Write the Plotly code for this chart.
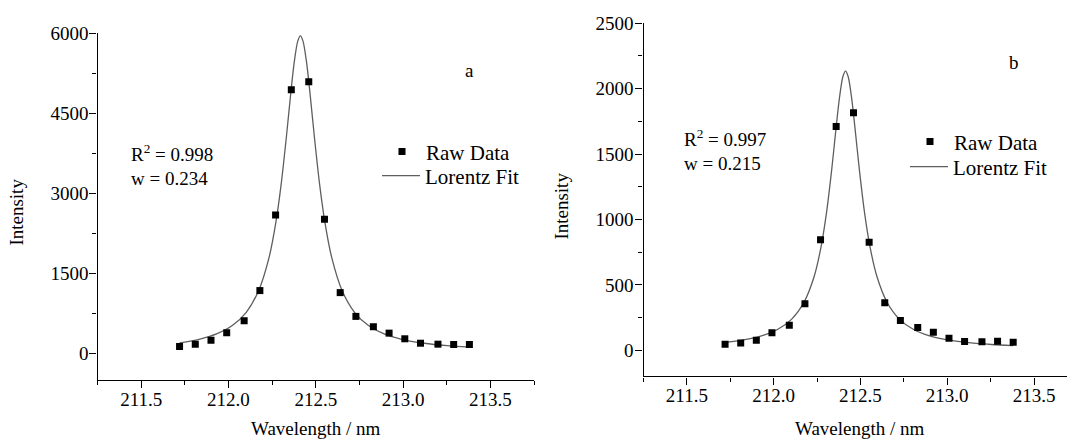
import plotly.graph_objects as go

W, H = 1067, 440

# ---------------- data ----------------
wavelength = [211.72, 211.81, 211.90, 211.99, 212.09, 212.18, 212.27, 212.36, 212.46, 212.55,
              212.64, 212.73, 212.83, 212.92, 213.01, 213.10, 213.20, 213.29, 213.38]
raw_a = [126, 170, 245, 384, 610, 1175, 2593, 4942, 5092, 2512,
         1137, 691, 497, 377, 271, 188, 170, 164, 164]
raw_b = [46, 56, 77, 133, 192, 355, 844, 1710, 1815, 826,
         363, 228, 174, 138, 92, 67, 64, 69, 61]

fit_a_x = [211.720, 211.832, 211.932, 212.022, 212.102, 212.172, 212.232, 212.272, 212.302, 212.332,
           212.357, 212.377, 212.397, 212.412, 212.427, 212.447, 212.467, 212.492, 212.522, 212.552,
           212.592, 212.652, 212.722, 212.802, 212.892, 212.992, 213.122, 213.252, 213.380]
fit_a_y = [195, 261, 362, 519, 768, 1167, 1788, 2464, 3172, 4064,
           4879, 5464, 5854, 5950, 5854, 5464, 4879, 4064, 3172, 2464,
           1788, 1167, 768, 519, 362, 261, 187, 143, 115]

fit_b_x = [211.720, 211.834, 211.934, 212.024, 212.104, 212.174, 212.234, 212.274, 212.304, 212.334,
           212.359, 212.379, 212.399, 212.414, 212.429, 212.449, 212.469, 212.494, 212.524, 212.554,
           212.594, 212.654, 212.724, 212.804, 212.894, 212.994, 213.124, 213.254, 213.380]
fit_b_y = [60, 81, 111, 160, 238, 365, 568, 798, 1048, 1377,
           1693, 1930, 2093, 2134, 2093, 1930, 1693, 1377, 1048, 798,
           568, 365, 238, 160, 111, 81, 58, 44, 36]

x_ticks = [211.5, 212.0, 212.5, 213.0, 213.5]
x_tick_text = ["211.5", "212.0", "212.5", "213.0", "213.5"]
y_ticks_a = [0, 1500, 3000, 4500, 6000]
y_ticks_b = [0, 500, 1000, 1500, 2000, 2500]

stats_a = ["R<sup>2</sup> = 0.998", "w = 0.234"]
stats_b = ["R<sup>2</sup> = 0.997", "w = 0.215"]
panel_labels = ["a", "b"]
x_title = "Wavelength / nm"
y_title = "Intensity"
legend_names = ["Raw Data", "Lorentz Fit"]

FONT = "Liberation Serif"
FIT_COLOR = "#5e5e5e"
KY = 0.9756  # vertical calibration


def px_x(p):
    return p / W


def px_y(p):
    # paper fraction for a target pixel row (top = 0)
    return (H - p) / (H * KY)


fig = go.Figure()

# panel a
fig.add_trace(go.Scatter(x=fit_a_x, y=fit_a_y, mode="lines", name=legend_names[1],
                         line=dict(color=FIT_COLOR, width=1.3, shape="spline", smoothing=0.8),
                         xaxis="x", yaxis="y", legend="legend2"))
fig.add_trace(go.Scatter(x=wavelength, y=raw_a, mode="markers", name=legend_names[0],
                         marker=dict(symbol="square", size=7, color="black"),
                         xaxis="x", yaxis="y", legend="legend"))
# panel b
fig.add_trace(go.Scatter(x=fit_b_x, y=fit_b_y, mode="lines", name=legend_names[1],
                         line=dict(color=FIT_COLOR, width=1.3, shape="spline", smoothing=0.8),
                         xaxis="x2", yaxis="y2", legend="legend4"))
fig.add_trace(go.Scatter(x=wavelength, y=raw_b, mode="markers", name=legend_names[0],
                         marker=dict(symbol="square", size=7, color="black"),
                         xaxis="x2", yaxis="y2", legend="legend3"))

axis_common = dict(showline=True, linecolor="black", linewidth=1.3, showgrid=False, zeroline=False,
                   ticks="outside", ticklen=7, tickwidth=1.2, tickcolor="black",
                   tickfont=dict(family=FONT, size=19, color="black"))


def leg(x, yc):
    return dict(x=px_x(x), y=px_y(yc - 19), xanchor="left", yanchor="top",
                bgcolor="rgba(0,0,0,0)", font=dict(family=FONT, size=21, color="black"),
                tracegroupgap=0, itemwidth=38)


fig.update_layout(
    width=W, height=H, margin=dict(l=0, r=0, t=0, b=0),
    paper_bgcolor="white", plot_bgcolor="white",
    font=dict(family=FONT, size=19, color="black"),
    xaxis=dict(domain=[px_x(97.5), px_x(534)], range=[211.25, 213.75], anchor="y",
               tickvals=x_ticks, ticktext=x_tick_text, ticklabelstandoff=-5,
               minor=dict(dtick=0.25, tick0=211.25, ticks="outside", ticklen=4, tickcolor="black"),
               **axis_common),
    yaxis=dict(domain=[px_y(380), px_y(34)], range=[-500, 6000], anchor="x",
               tickvals=y_ticks_a, ticklabelstandoff=-3,
               minor=dict(dtick=750, tick0=0, ticks="outside", ticklen=4, tickcolor="black"),
               **axis_common),
    xaxis2=dict(domain=[px_x(643.5), 1.0], range=[211.25, 213.69], anchor="y2",
                tickvals=x_ticks, ticktext=x_tick_text, ticklabelstandoff=-5,
                minor=dict(dtick=0.25, tick0=211.25, ticks="outside", ticklen=4, tickcolor="black"),
                **axis_common),
    yaxis2=dict(domain=[px_y(376.5), px_y(24)], range=[-200, 2500], anchor="x2",
                tickvals=y_ticks_b, ticklabelstandoff=-2,
                minor=dict(dtick=250, tick0=0, ticks="outside", ticklen=4, tickcolor="black"),
                **axis_common),
    legend=leg(378, 151),
    legend2=leg(377, 175),
    legend3=leg(906, 141),
    legend4=leg(905, 166),
    showlegend=True,
)

ann = []


def text(t, x, y, xanchor="left", angle=0):
    ann.append(dict(text=t, x=px_x(x), y=px_y(y), xref="paper", yref="paper",
                    xanchor=xanchor, yanchor="middle", showarrow=False, textangle=angle,
                    font=dict(family=FONT, size=19, color="black")))


text(stats_a[0], 129, 153)
text(stats_a[1], 129, 179)
text(stats_b[0], 682, 139)
text(stats_b[1], 682, 164)
text(panel_labels[0], 469, 71, "center")
text(panel_labels[1], 1014, 63, "center")
text(x_title, 316, 429, "center")
text(x_title, 860, 429, "center")
text(y_title, 17, 213, "center", -90)
text(y_title, 562, 207, "center", -90)
fig.update_layout(annotations=ann)

fig.write_html("out.html")
